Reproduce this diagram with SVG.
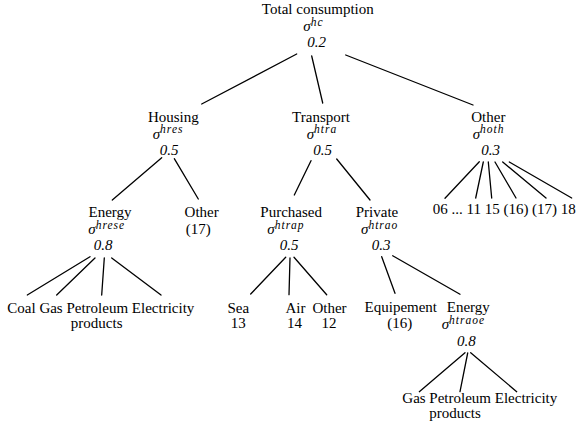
<svg xmlns="http://www.w3.org/2000/svg" width="578" height="425" viewBox="0 0 578 425" font-family="'Liberation Serif', 'DejaVu Serif', serif">
<style>
text{font-family:'Liberation Serif','DejaVu Serif',serif;font-size:15px;fill:#000}
.m{text-anchor:middle}
.i{font-style:italic}
.sup{font-size:11.5px;font-style:italic;letter-spacing:1px}
#edges line{stroke:#000;stroke-width:1.3;stroke-linecap:round}
</style>
<rect width="578" height="425" fill="#fff"/>
<g id="edges">
<line x1="296.7" y1="54" x2="201.7" y2="104"/>
<line x1="311.7" y1="56" x2="322.7" y2="103"/>
<line x1="345.7" y1="55" x2="473" y2="105"/>
<line x1="161.7" y1="157.7" x2="112.3" y2="200"/>
<line x1="174.3" y1="158.7" x2="198.3" y2="199"/>
<line x1="311" y1="160.7" x2="294.3" y2="195"/>
<line x1="336.7" y1="159" x2="370" y2="200"/>
<line x1="479.3" y1="161.7" x2="445" y2="198.3"/>
<line x1="483.3" y1="162" x2="475.7" y2="198"/>
<line x1="488.3" y1="162" x2="491.7" y2="198"/>
<line x1="495" y1="162" x2="516" y2="198"/>
<line x1="502.7" y1="162" x2="546" y2="198"/>
<line x1="509.3" y1="162" x2="571.7" y2="198"/>
<line x1="90" y1="256.7" x2="27.3" y2="295"/>
<line x1="95" y1="258" x2="56.7" y2="295"/>
<line x1="104.3" y1="258" x2="101.7" y2="295"/>
<line x1="111.7" y1="258" x2="161" y2="295"/>
<line x1="285.7" y1="257.3" x2="250.7" y2="294"/>
<line x1="290" y1="258" x2="289" y2="294.7"/>
<line x1="294" y1="257.3" x2="326.7" y2="294.7"/>
<line x1="381.7" y1="256.7" x2="395" y2="293.3"/>
<line x1="392.7" y1="255.7" x2="460" y2="294.3"/>
<line x1="465" y1="352.7" x2="419.3" y2="391.7"/>
<line x1="467.7" y1="353" x2="460" y2="391.7"/>
<line x1="470.7" y1="352.7" x2="516.7" y2="391.7"/>
</g>
<g id="total">
<text class="m" x="317.8" y="14">Total consumption</text>
<text x="303.3" y="31"><tspan class="i">σ</tspan><tspan class="sup" dy="-5.5">hc</tspan></text>
<text class="m i" x="316.7" y="46.5">0.2</text>
</g>
<g id="housing">
<text class="m" x="173.3" y="121.5">Housing</text>
<text x="152.7" y="138.5"><tspan class="i">σ</tspan><tspan class="sup" dy="-5.5">hres</tspan></text>
<text class="m i" x="169" y="155">0.5</text>
</g>
<g id="transport">
<text class="m" x="321" y="121.5">Transport</text>
<text x="306.7" y="138.5"><tspan class="i">σ</tspan><tspan class="sup" dy="-5.5">htra</tspan></text>
<text class="m i" x="322.5" y="155">0.5</text>
</g>
<g id="other">
<text class="m" x="488.3" y="121.5">Other</text>
<text x="472.7" y="138.5"><tspan class="i">σ</tspan><tspan class="sup" dy="-5.5">hoth</tspan></text>
<text class="m i" x="490.5" y="155">0.3</text>
</g>
<g id="other-leaves">
<text x="432.7" y="214.3">06 ... 11 15 (16) (17) 18</text>
</g>
<g id="h-energy">
<text class="m" x="110" y="216.7">Energy</text>
<text x="88.3" y="234"><tspan class="i">σ</tspan><tspan class="sup" dy="-5.5">hrese</tspan></text>
<text class="m i" x="103" y="250">0.8</text>
</g>
<g id="h-other">
<text class="m" x="201.7" y="216.7">Other</text>
<text class="m" x="198.3" y="233.5">(17)</text>
</g>
<g id="h-energy-leaves">
<text x="7.3" y="312.5">Coal Gas Petroleum Electricity</text>
<text class="m" x="96.7" y="327.5">products</text>
</g>
<g id="purchased">
<text class="m" x="291.2" y="217">Purchased</text>
<text x="267.3" y="234"><tspan class="i">σ</tspan><tspan class="sup" dy="-5.5">htrap</tspan></text>
<text class="m i" x="289" y="250">0.5</text>
</g>
<g id="private">
<text class="m" x="377" y="217">Private</text>
<text x="361" y="234"><tspan class="i">σ</tspan><tspan class="sup" dy="-5.5">htrao</tspan></text>
<text class="m i" x="381" y="250">0.3</text>
</g>
<g id="sea">
<text class="m" x="238.3" y="312.5">Sea</text>
<text class="m" x="238.3" y="328">13</text>
</g>
<g id="air">
<text class="m" x="295.5" y="312.5">Air</text>
<text class="m" x="294.5" y="328">14</text>
</g>
<g id="p-other">
<text class="m" x="329.5" y="312.5">Other</text>
<text class="m" x="329" y="328">12</text>
</g>
<g id="equipement">
<text class="m" x="400.8" y="312">Equipement</text>
<text class="m" x="399.7" y="328">(16)</text>
</g>
<g id="t-energy">
<text class="m" x="468.3" y="312">Energy</text>
<text x="441.7" y="329"><tspan class="i">σ</tspan><tspan class="sup" dy="-5.5">htraoe</tspan></text>
<text class="m i" x="466.3" y="345.5">0.8</text>
</g>
<g id="t-energy-leaves">
<text x="402.3" y="403.3">Gas Petroleum Electricity</text>
<text class="m" x="455" y="418">products</text>
</g>
</svg>
